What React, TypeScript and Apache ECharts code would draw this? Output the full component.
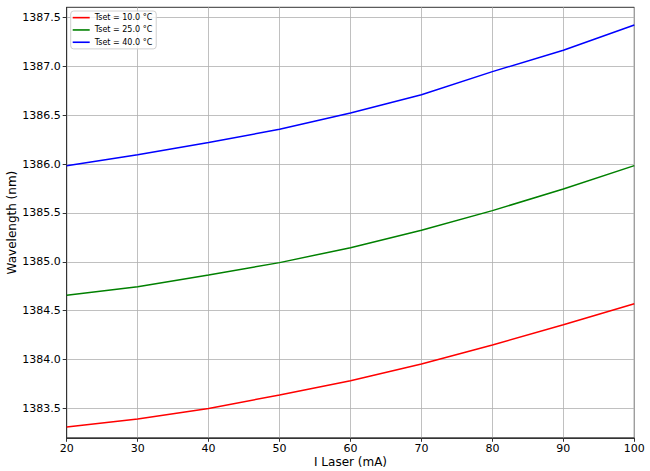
import React, { useEffect, useRef } from "react";
import * as echarts from "echarts";

const currents = [20, 30, 40, 50, 60, 70, 80, 90, 100];
const seriesNames = ["Tset = 10.0 °C", "Tset = 25.0 °C", "Tset = 40.0 °C"];
const wl10 = [1383.311, 1383.393, 1383.5, 1383.638, 1383.784, 1383.955, 1384.15, 1384.357, 1384.572];
const wl25 = [1384.658, 1384.746, 1384.866, 1384.992, 1385.145, 1385.323, 1385.524, 1385.746, 1385.984];
const wl40 = [1385.984, 1386.096, 1386.22, 1386.356, 1386.523, 1386.71, 1386.946, 1387.164, 1387.423];
const seriesColors = ["#ff0000", "#008000", "#0000ff"];
const yTicks = [1383.5, 1384.0, 1384.5, 1385.0, 1385.5, 1386.0, 1386.5, 1387.0, 1387.5];

export default function App() {
  const ref = useRef<HTMLDivElement>(null);
  useEffect(() => {
    if (!ref.current) return;
    const chart = echarts.init(ref.current, null, { renderer: "svg" });
    const font = "DejaVu Sans";
    const all = [wl10, wl25, wl40];
    chart.setOption({
      animation: false,
      backgroundColor: "#ffffff",
      textStyle: { fontFamily: font },
      grid: {
        left: 66.7,
        right: 15.7,
        top: 7.3,
        bottom: 33.2,
        containLabel: false,
        outerBoundsMode: "none",
        show: true,
        borderColor: "#333",
        borderWidth: 1,
        backgroundColor: "transparent",
      },
      legend: {
        orient: "vertical",
        left: 70.7,
        top: 11,
        padding: [2, 4, 2, 2],
        itemGap: 3,
        itemWidth: 17,
        itemHeight: 1.6,
        icon: "rect",
        borderColor: "#d0d0d0",
        borderWidth: 1,
        borderRadius: 3,
        backgroundColor: "rgba(255,255,255,0.8)",
        textStyle: { fontFamily: font, fontSize: 8, color: "#000", lineHeight: 9.3 },
        data: seriesNames,
      },
      xAxis: {
        type: "value",
        min: 20,
        max: 100,
        interval: 10,
        name: "I Laser (mA)",
        nameLocation: "middle",
        nameGap: 18,
        nameMoveOverlap: false,
        nameTextStyle: { fontFamily: font, fontSize: 12, color: "#000", verticalAlign: "top" },
        axisLine: { show: true, lineStyle: { color: "#333", width: 1 } },
        axisTick: { show: true, length: 4, lineStyle: { color: "#333" } },
        axisLabel: { fontFamily: font, fontSize: 11, color: "#000", margin: 5 },
        splitLine: { show: true, lineStyle: { color: "#b0b0b0", width: 0.8 } },
      },
      yAxis: {
        type: "value",
        min: 1383.2,
        max: 1387.604,
        name: "Wavelength (nm)",
        nameLocation: "middle",
        nameGap: 49,
        nameMoveOverlap: false,
        nameTextStyle: { fontFamily: font, fontSize: 12, color: "#000" },
        axisLine: { show: true, lineStyle: { color: "#333", width: 1 } },
        axisTick: { show: true, length: 4, lineStyle: { color: "#333" }, customValues: yTicks },
        axisLabel: {
          fontFamily: font,
          fontSize: 11,
          color: "#000",
          margin: 6,
          customValues: yTicks,
          formatter: (v: number) => v.toFixed(1),
        },
        splitLine: { show: true, lineStyle: { color: "#b0b0b0", width: 0.8 } },
      },
      series: all.map((vals, i) => ({
        name: seriesNames[i],
        type: "line",
        showSymbol: false,
        symbol: "none",
        data: currents.map((c, j) => [c, vals[j]]),
        lineStyle: { color: seriesColors[i], width: 1.5 },
        itemStyle: { color: seriesColors[i] },
      })),
    });
    return () => chart.dispose();
  }, []);
  return <div ref={ref} style={{ width: 650, height: 471, position: "absolute", left: 0, top: 0 }} />;
}
